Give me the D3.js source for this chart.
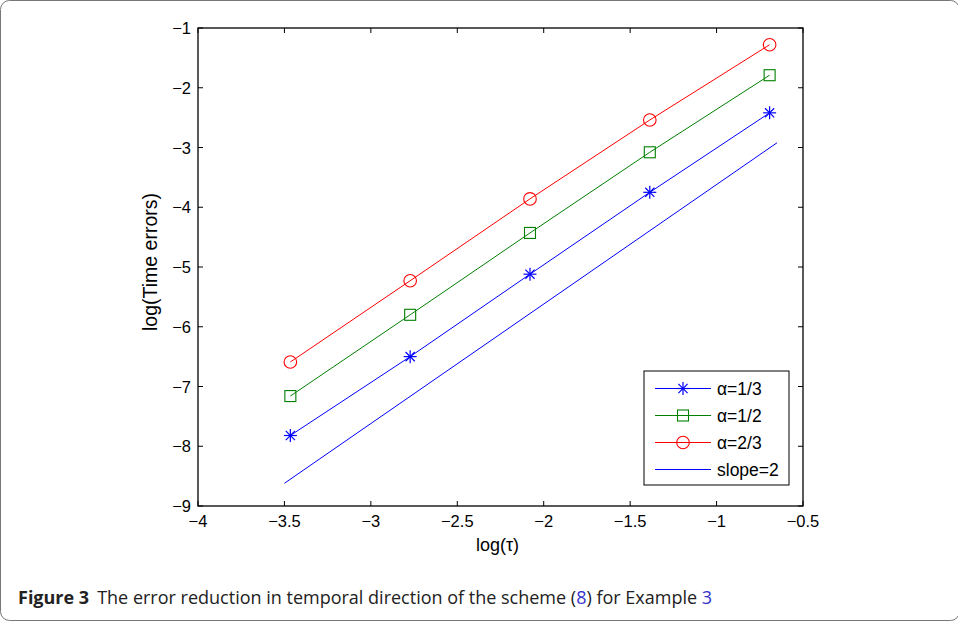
<!DOCTYPE html>
<html>
<head>
<meta charset="utf-8">
<script src="https://cdn.jsdelivr.net/npm/d3@7"></script>
<style>
  body { margin: 0; background: #fff; }
  svg { display: block; }
</style>
</head>
<body>
<div id="chart"></div>
<script>
// data
var logTau = [-3.4657, -2.7726, -2.0794, -1.3863, -0.6931];
var alpha13 = [-7.82, -6.50, -5.12, -3.75, -2.42];
var alpha12 = [-7.16, -5.80, -4.43, -3.08, -1.79];
var alpha23 = [-6.59, -5.23, -3.86, -2.54, -1.28];
var slopeX = [-3.5, -0.65];
var slopeY = [-8.62, -2.92];
var xTicks = [-4, -3.5, -3, -2.5, -2, -1.5, -1, -0.5];
var yTicks = [-9, -8, -7, -6, -5, -4, -3, -2, -1];

var W = 958, H = 621;
var margin = { top: 28, right: 155, bottom: 115, left: 198 },
    width = 803 - margin.left,
    height = 506 - margin.top;

var svg = d3.select("#chart")
  .append("svg")
    .attr("width", W)
    .attr("height", H);

// figure frame
svg.append("rect")
  .attr("x", 0.5).attr("y", 0.5)
  .attr("width", W + 1).attr("height", H - 1)
  .attr("rx", 9)
  .attr("fill", "none")
  .attr("stroke", "#777")
  .attr("stroke-width", 1);

var g = svg.append("g")
  .attr("transform", `translate(${margin.left},${margin.top})`);

var x = d3.scaleLinear().domain([-4, -0.5]).range([0, width]);
var y = d3.scaleLinear().domain([-9, -1]).range([height, 0]);

var fontAx = "'Liberation Sans', Arial, Helvetica, sans-serif";

// ticks (inward, all four sides)
var tickLen = 5;
xTicks.forEach(function(t) {
  g.append("line").attr("x1", x(t)).attr("x2", x(t)).attr("y1", height).attr("y2", height - tickLen)
    .attr("stroke", "#000");
  g.append("line").attr("x1", x(t)).attr("x2", x(t)).attr("y1", 0).attr("y2", tickLen)
    .attr("stroke", "#000");
  g.append("text")
    .attr("x", x(t)).attr("y", height + 21)
    .attr("text-anchor", "middle")
    .style("font-family", fontAx).style("font-size", "16.5px")
    .text(String(t).replace("-", "\u2212"));
});
yTicks.forEach(function(t) {
  g.append("line").attr("x1", 0).attr("x2", tickLen).attr("y1", y(t)).attr("y2", y(t))
    .attr("stroke", "#000");
  g.append("line").attr("x1", width).attr("x2", width - tickLen).attr("y1", y(t)).attr("y2", y(t))
    .attr("stroke", "#000");
  g.append("text")
    .attr("x", -7).attr("y", y(t) + 6)
    .attr("text-anchor", "end")
    .style("font-family", fontAx).style("font-size", "16.5px")
    .text(String(t).replace("-", "\u2212"));
});

// box
g.append("rect")
  .attr("width", width).attr("height", height)
  .attr("fill", "none").attr("stroke", "#000").attr("stroke-width", 1.3);

// axis labels
g.append("text")
  .attr("x", width / 2 - 3).attr("y", height + 45)
  .attr("text-anchor", "middle")
  .style("font-family", fontAx).style("font-size", "18px")
  .text("log(\u03c4)");
g.append("text")
  .attr("transform", `translate(-41,${height / 2 - 5}) rotate(-90)`)
  .attr("text-anchor", "middle")
  .style("font-family", fontAx).style("font-size", "19.5px")
  .text("log(Time errors)");

var line = d3.line().x(function(d) { return x(d[0]); }).y(function(d) { return y(d[1]); });

// markers
function marker(sel, type, color) {
  if (type === "star") {
    var s = 6.5, d = 4.6;
    [[-s, 0, s, 0], [0, -s, 0, s], [-d, -d, d, d], [-d, d, d, -d]].forEach(function(l) {
      sel.append("line").attr("x1", l[0]).attr("y1", l[1]).attr("x2", l[2]).attr("y2", l[3])
        .attr("stroke", color).attr("stroke-width", 1.2);
    });
  } else if (type === "square") {
    sel.append("rect").attr("x", -5.5).attr("y", -5.5).attr("width", 11).attr("height", 11)
      .attr("fill", "none").attr("stroke", color).attr("stroke-width", 1.1);
  } else if (type === "circle") {
    sel.append("circle").attr("r", 6.3)
      .attr("fill", "none").attr("stroke", color).attr("stroke-width", 1.1);
  }
}

var series = [
  { name: "\u03b1=1/3", vals: alpha13, color: "#0000ff", mark: "star" },
  { name: "\u03b1=1/2", vals: alpha12, color: "#008000", mark: "square" },
  { name: "\u03b1=2/3", vals: alpha23, color: "#ff0000", mark: "circle" }
];

series.forEach(function(s) {
  var pts = logTau.map(function(t, i) { return [t, s.vals[i]]; });
  g.append("path").datum(pts)
    .attr("d", line)
    .attr("fill", "none").attr("stroke", s.color).attr("stroke-width", 1);
  pts.forEach(function(p) {
    var m = g.append("g").attr("transform", `translate(${x(p[0])},${y(p[1])})`);
    marker(m, s.mark, s.color);
  });
});

// slope=2 reference line
g.append("path").datum(slopeX.map(function(v, i) { return [v, slopeY[i]]; }))
  .attr("d", line)
  .attr("fill", "none").attr("stroke", "#0000ff").attr("stroke-width", 1);

// legend
var leg = svg.append("g").attr("transform", "translate(644,371)");
leg.append("rect").attr("width", 145).attr("height", 114)
  .attr("fill", "#fff").attr("stroke", "#000").attr("stroke-width", 1);
var legItems = series.concat([{ name: "slope=2", color: "#0000ff", mark: null }]);
legItems.forEach(function(s, i) {
  var yy = 17.5 + i * 27;
  leg.append("line").attr("x1", 11).attr("x2", 67).attr("y1", yy).attr("y2", yy)
    .attr("stroke", s.color).attr("stroke-width", 1);
  if (s.mark) marker(leg.append("g").attr("transform", `translate(39,${yy})`), s.mark, s.color);
  leg.append("text")
    .attr("x", 73).attr("y", yy + 6)
    .style("font-family", fontAx).style("font-size", "17.5px")
    .text(s.name);
});

// caption
var cap = svg.append("text")
  .attr("x", 18).attr("y", 604)
  .style("font-family", "'Open Sans', 'Noto Sans', sans-serif")
  .style("font-size", "18px")
  .attr("fill", "#222");
cap.append("tspan").style("font-weight", "bold").text("Figure 3");
cap.append("tspan").attr("dx", 8).text("The error reduction in temporal direction of the scheme (");
cap.append("tspan").attr("fill", "#3333cc").text("8");
cap.append("tspan").text(") for Example ");
cap.append("tspan").attr("fill", "#3333cc").text("3");
</script>
</body>
</html>
